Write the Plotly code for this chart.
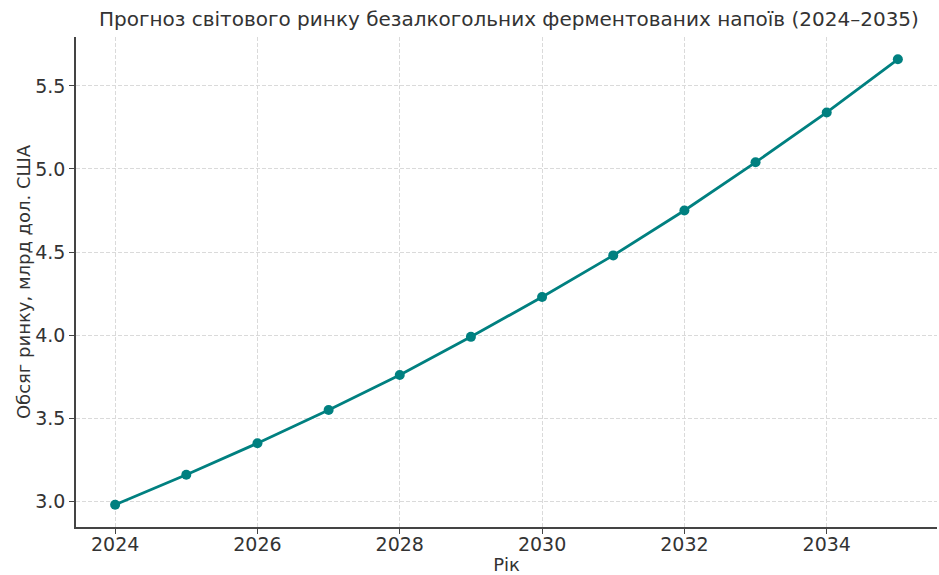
import plotly.graph_objects as go

years = [2024, 2025, 2026, 2027, 2028, 2029, 2030, 2031, 2032, 2033, 2034, 2035]
market_bn_usd = [2.98, 3.16, 3.35, 3.55, 3.76, 3.99, 4.23, 4.48, 4.75, 5.04, 5.34, 5.66]

x_ticks = [2024, 2026, 2028, 2030, 2032, 2034]
y_ticks = [3.0, 3.5, 4.0, 4.5, 5.0, 5.5]

font_family = "DejaVu Sans, sans-serif"
ink = "#333333"
spine = "#444444"
grid = "#dadada"

fig = go.Figure()
fig.add_trace(go.Scatter(
    x=years,
    y=market_bn_usd,
    mode="lines+markers",
    line=dict(color="#008080", width=2.8),
    marker=dict(color="#008080", size=10),
    showlegend=False,
))

fig.update_layout(
    width=939,
    height=575,
    margin=dict(l=76, r=2, t=37, b=48),
    paper_bgcolor="white",
    plot_bgcolor="white",
    font=dict(family=font_family, color=ink),
    title=dict(
        text="Прогноз світового ринку безалкогольних ферментованих напоїв (2024–2035)",
        x=0.542, xanchor="center", y=0.967, yanchor="middle",
        font=dict(size=20, color=ink),
    ),
)

fig.update_xaxes(
    range=[2023.45, 2035.55],
    tickvals=x_ticks,
    ticktext=[str(v) for v in x_ticks],
    tickfont=dict(size=19, color=ink),
    ticks="outside", ticklen=5, tickwidth=1.2, tickcolor=spine,
    ticklabelstandoff=-6,
    showline=True, linecolor=spine, linewidth=1.5,
    showgrid=True, gridcolor=grid, griddash="4px,2px", gridwidth=1,
    zeroline=False, automargin=False,
    title=dict(text="Рік", font=dict(size=18, color=ink), standoff=0),
)

fig.update_yaxes(
    range=[2.846, 5.794],
    tickvals=y_ticks,
    ticktext=[f"{v:.1f}" for v in y_ticks],
    tickfont=dict(size=19, color=ink),
    ticks="outside", ticklen=5, tickwidth=1.2, tickcolor=spine,
    showline=True, linecolor=spine, linewidth=1.5,
    showgrid=True, gridcolor=grid, griddash="4px,2px", gridwidth=1,
    zeroline=False, automargin=False,
    title=dict(text="Обсяг ринку, млрд дол. США", font=dict(size=18, color=ink), standoff=0),
)

fig.write_html("out.html")
